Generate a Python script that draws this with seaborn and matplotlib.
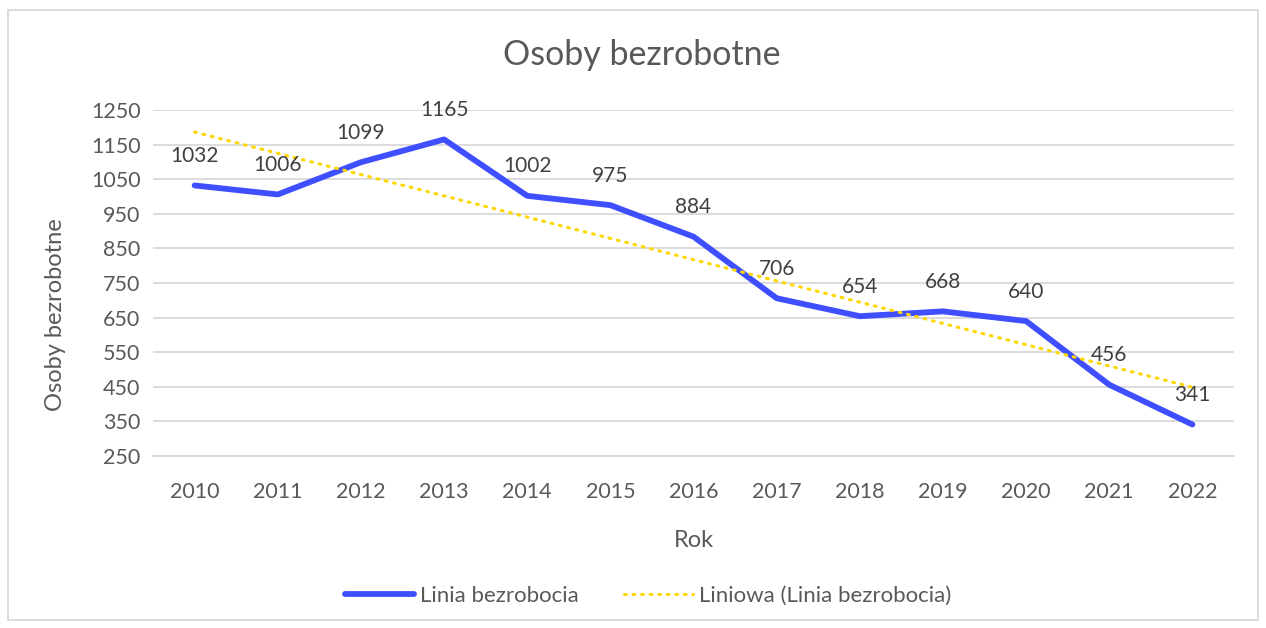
import numpy as np
import pandas as pd
import matplotlib.pyplot as plt
import seaborn as sns
from matplotlib.patches import Rectangle

years = ["2010", "2011", "2012", "2013", "2014", "2015", "2016",
         "2017", "2018", "2019", "2020", "2021", "2022"]
unemployed = [1032, 1006, 1099, 1165, 1002, 975, 884, 706, 654, 668, 640, 456, 341]
y_ticks = [250, 350, 450, 550, 650, 750, 850, 950, 1050, 1150, 1250]

df = pd.DataFrame({"pos": range(len(years)), "value": unemployed})

# linear trendline like Excel's "Liniowa"
slope, intercept = np.polyfit(df["pos"], df["value"], 1)
df["trend"] = intercept + slope * df["pos"]

sns.set_style("white")
plt.rcParams["font.family"] = ["Lato", "DejaVu Sans"]
txt = "#595959"
grid = "#d9d9d9"

fig = plt.figure(figsize=(12.66, 6.28), dpi=100)
ax = fig.add_axes([0.1209, 0.2739, 0.8538, 0.5509])

sns.lineplot(data=df, x="pos", y="value", color="#3f4fff", linewidth=4.2,
             solid_capstyle="round", label="Linia bezrobocia", ax=ax, zorder=3)
sns.lineplot(data=df, x="pos", y="trend", color="#ffd700", linewidth=2.2,
             linestyle=(0, (0.6, 2.2)), dash_capstyle="round",
             label="Liniowa (Linia bezrobocia)", ax=ax, zorder=4)

for x, v in zip(df["pos"], df["value"]):
    ax.annotate(str(v), (x, v), xytext=(0, 14), textcoords="offset points",
                ha="center", va="bottom", fontsize=15, color="#404040", zorder=5)

ax.set_xlim(-0.5, len(years) - 0.5)
ax.set_ylim(250, 1250)
ax.set_yticks(y_ticks)
ax.set_xticks(df["pos"])
ax.set_xticklabels(years)
ax.set_xticks(np.arange(-0.5, len(years), 1), minor=True)
ax.tick_params(axis="x", which="major", length=0, pad=19, labelsize=15.5, labelcolor=txt)
ax.tick_params(axis="x", which="minor", length=7, width=1.2, color=grid, direction="out")
ax.tick_params(axis="y", length=0, pad=9, labelsize=15.5, labelcolor=txt)
ax.grid(axis="y", color=grid, linewidth=1.3)
for s in ["top", "right", "left"]:
    ax.spines[s].set_visible(False)
ax.spines["bottom"].set_color(grid)
ax.spines["bottom"].set_linewidth(1.3)

ax.set_xlabel("Rok", fontsize=17, color=txt, labelpad=20)
ax.set_ylabel("Osoby bezrobotne", fontsize=17, color=txt, va="center")
ax.yaxis.set_label_coords(-0.0907, 0.41)
fig.text(0.507, 0.912, "Osoby bezrobotne", ha="center", va="center",
         fontsize=24.5, color=txt)

ax.legend(loc="center", bbox_to_anchor=(0.512, 0.051), bbox_transform=fig.transFigure,
          ncol=2, frameon=False, fontsize=16, labelcolor=txt,
          handlelength=3.1, handletextpad=0.3, columnspacing=2.0)

fig.patches.append(Rectangle((8 / 1266, 8 / 628), 1250 / 1266, 610 / 628,
                             transform=fig.transFigure, fill=False,
                             edgecolor="#d9d9d9", linewidth=1.3))

fig.savefig("out.png", dpi=100, facecolor="white")
